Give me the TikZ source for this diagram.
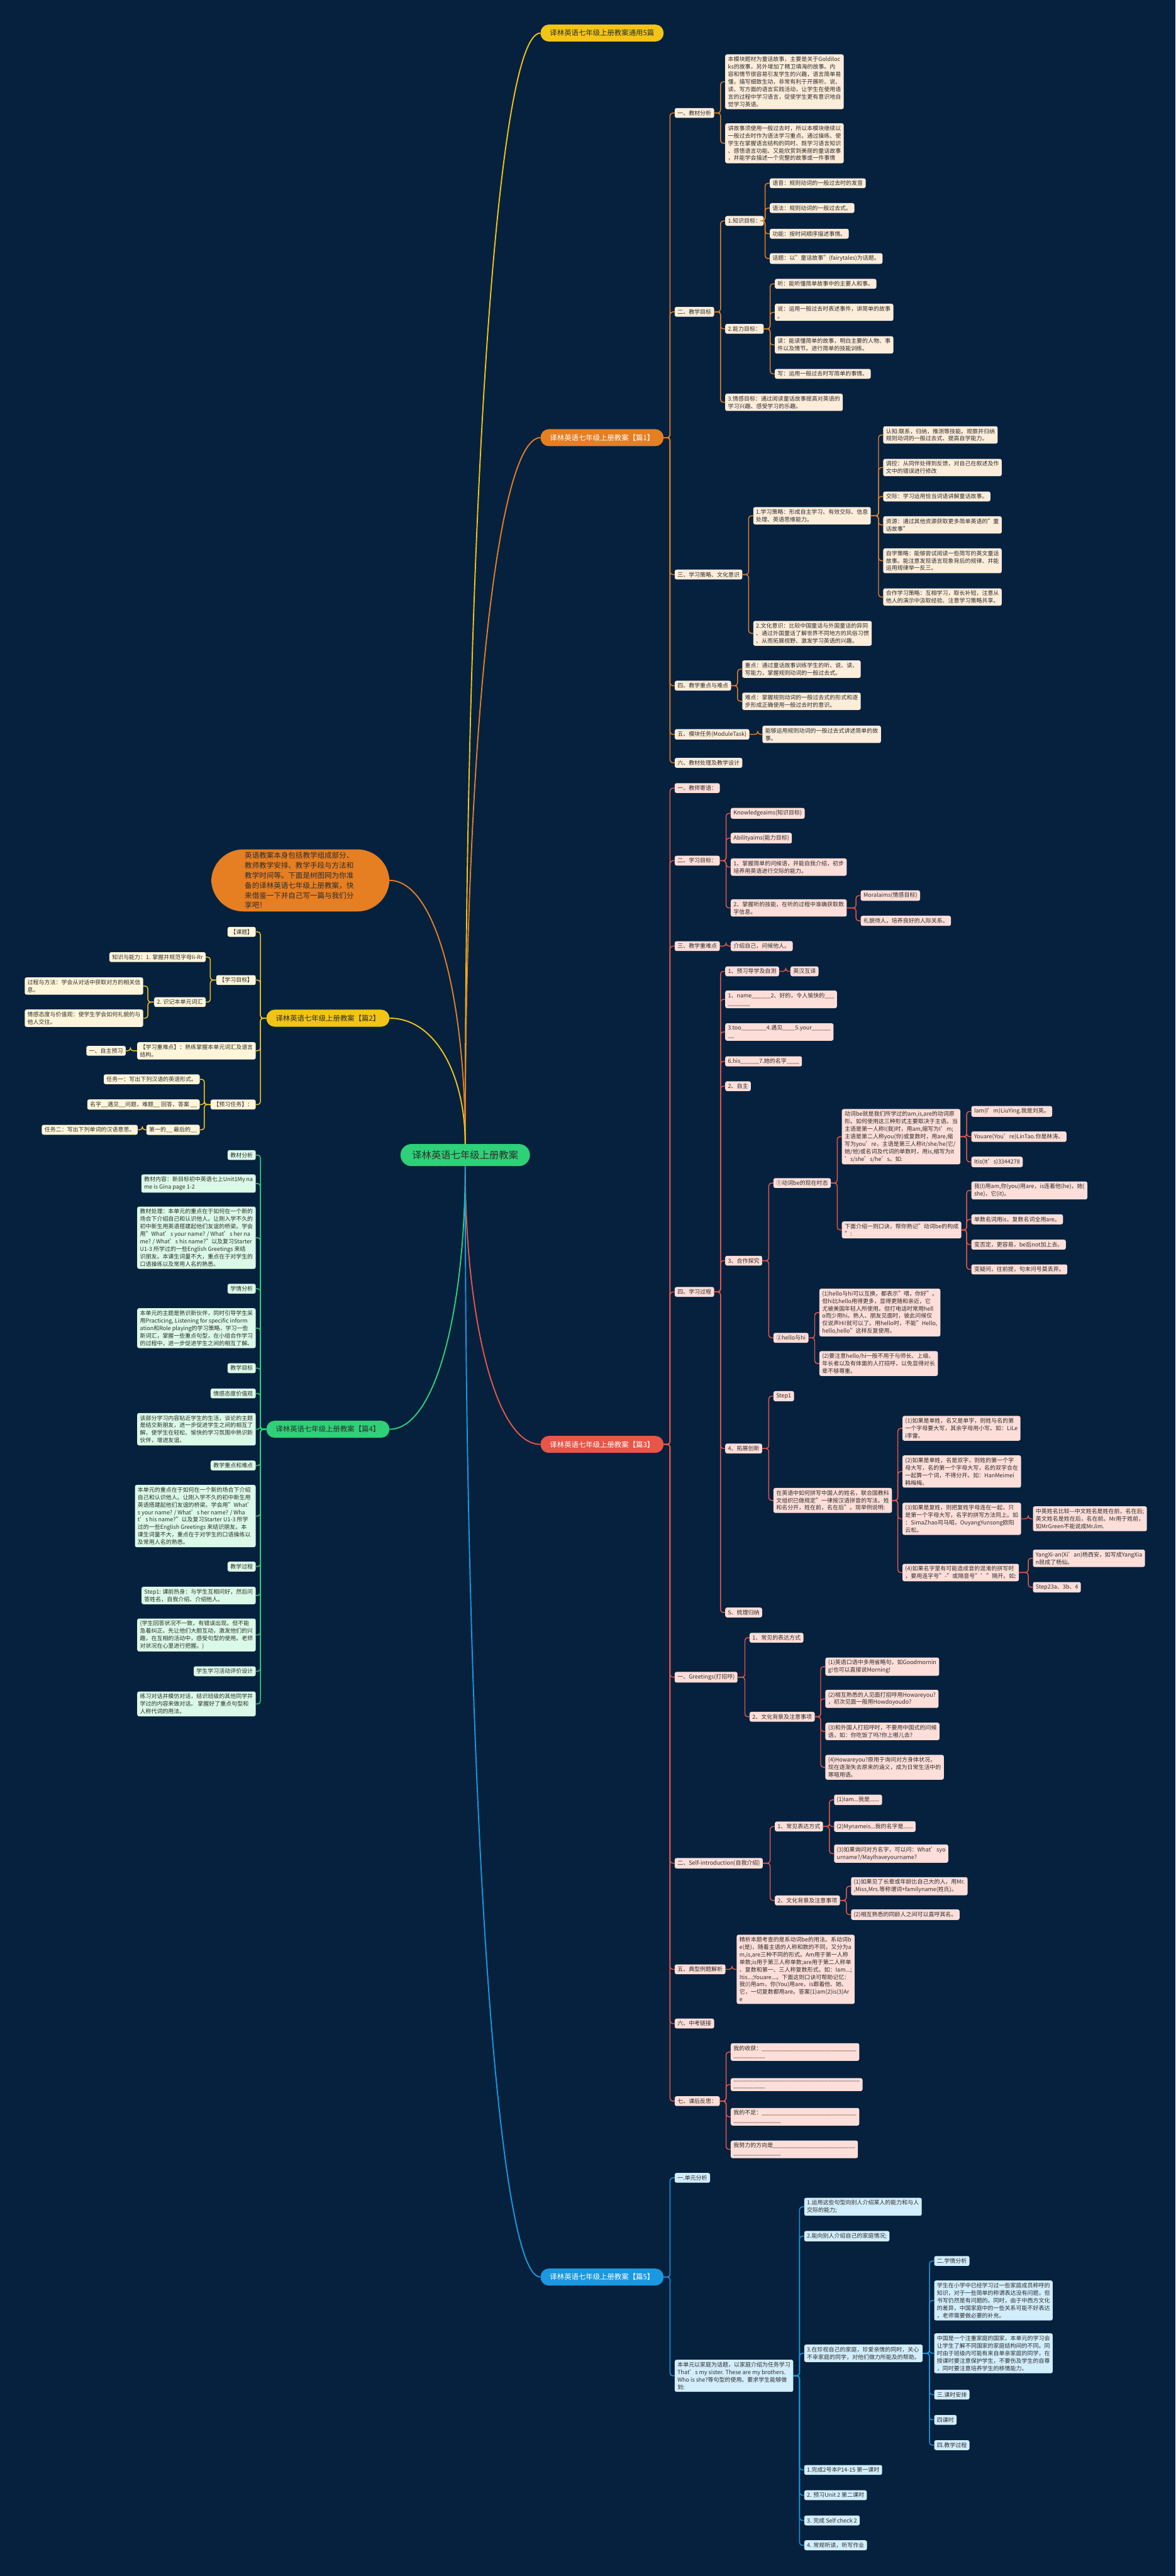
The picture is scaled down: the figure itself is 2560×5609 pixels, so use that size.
\documentclass[tikz,border=0pt]{standalone}
\usepackage{fontspec}
\setmainfont{Noto Sans CJK SC}

\definecolor{bg}{RGB}{5,33,62}
\definecolor{ink}{RGB}{45,45,45}
\definecolor{cYel}{RGB}{242,196,22}
\definecolor{cOra}{RGB}{230,126,34}
\definecolor{cRed}{RGB}{231,86,72}
\definecolor{cBlu}{RGB}{27,152,224}
\definecolor{cGrn}{RGB}{46,208,120}
\definecolor{fOra}{RGB}{252,236,218}
\definecolor{fRed}{RGB}{253,222,217}
\definecolor{fBlu}{RGB}{210,237,251}
\definecolor{fYel}{RGB}{254,245,218}
\definecolor{fGrn}{RGB}{219,249,231}

\newcommand{\fillin}[1]{\foreach \k in {1,...,#1}{\_}}

\begin{document}
\begin{tikzpicture}[
  x=1pt, y=-1pt,
  bx/.style={rounded corners=4pt, inner xsep=6pt, inner ysep=5pt, align=left,
    text=ink, font=\fontsize{12.3}{16.3}\selectfont},
  ro/.style={bx, fill=fOra, anchor=west},
  rr/.style={bx, fill=fRed, anchor=west},
  rb/.style={bx, fill=fBlu, anchor=west},
  ly/.style={bx, fill=fYel, anchor=east},
  lg/.style={bx, fill=fGrn, anchor=east},
  pill/.style={rounded corners=18pt, minimum width=268pt, minimum height=37pt,
    inner sep=0pt, font=\fontsize{15.6}{18}\selectfont},
  lk/.style={line width=2pt, rounded corners=6pt,
    to path={-| ([xshift=-10pt]\tikztotarget) -- (\tikztotarget)}},
  lkl/.style={line width=2pt, rounded corners=6pt,
    to path={-| ([xshift=10pt]\tikztotarget) -- (\tikztotarget)}},
  cv/.style={line width=2.6pt}
]
\useasboundingbox (0,0) rectangle (2560,5609);
\fill[bg] (0,0) rectangle (2560,5609);

% centre and main branches
\node[pill, fill=cGrn, text=ink, minimum width=282pt, minimum height=48pt,
  rounded corners=24pt, font=\fontsize{21}{24}\selectfont] (c) at (1013,2515) {译林英语七年级上册教案};
\node[pill, fill=cYel, text=ink] (h) at (1311,72) {译林英语七年级上册教案通用5篇};
\node[pill, fill=cOra, text=white] (p1) at (1311,953) {译林英语七年级上册教案【篇1】};
\node[pill, fill=cRed, text=white] (p3) at (1311,3145) {译林英语七年级上册教案【篇3】};
\node[pill, fill=cBlu, text=white] (p5) at (1311,4958) {译林英语七年级上册教案【篇5】};
\node[pill, fill=cYel, text=ink] (p2) at (714,2217) {译林英语七年级上册教案【篇2】};
\node[pill, fill=cGrn, text=ink] (p4) at (714,3112) {译林英语七年级上册教案【篇4】};
\node[fill=cOra, text=ink, rounded corners=70pt, text width=242pt, inner xsep=73pt,
  inner ysep=6pt, align=left, font=\fontsize{15.8}{21.7}\selectfont] (ds) at (654,1917)
  {英语教案本身包括教学组成部分、\\教师教学安排、教学手段与方法和\\教学时间等。下面是树图网为你准\\备的译林英语七年级上册教案，快\\来借鉴一下并自己写一篇与我们分\\享吧！};

\draw[cv, cYel] (c.north) .. controls +(0,-1330) and +(-98,0) .. (h.west);
\draw[cv, cOra] (c.north) .. controls +(0,-850) and +(-98,0) .. (p1.west);
\draw[cv, cOra] (c.north) .. controls +(0,-320) and +(100,0) .. (ds.east);
\draw[cv, cYel] (c.north) .. controls +(0,-150) and +(100,0) .. (p2.east);
\draw[cv, cGrn] (c.south) .. controls +(0,315) and +(100,0) .. (p4.east);
\draw[cv, cRed] (c.south) .. controls +(0,330) and +(-98,0) .. (p3.west);
\draw[cv, cBlu] (c.south) .. controls +(0,1330) and +(-98,0) .. (p5.west);

% 篇1
\node[ro] (a1) at (1469,246) {一、教材分析};
\node[ro] (a2) at (1469,679) {二、教学目标};
\node[ro] (a3) at (1469,1251) {三、学习策略、文化意识};
\node[ro] (a4) at (1469,1493) {四、教学重点与难点};
\node[ro] (a5) at (1469,1599) {五、模块任务(ModuleTask)};
\node[ro] (a6) at (1469,1661) {六、教材处理及教学设计};
\node[ro] (a11) at (1579,178) {本模块题材为童话故事，主要是关于Goldiloc\\ks的故事，另外增加了精卫填海的故事。内\\容和情节很容易引发学生的兴趣，语言简单易\\懂，描写细致生动，非常有利于开展听、说、\\读、写方面的语言实践活动，让学生在使用语\\言的过程中学习语言，促使学生更有意识地自\\觉学习英语。};
\node[ro] (a12) at (1579,312) {讲故事须使用一般过去时，所以本模块继续以\\一般过去时作为语法学习重点。通过操练、使\\学生在掌握语言结构的同时、既学习语言知识\\、感悟语言功能、又能欣赏到美丽的童话故事\\，并能学会描述一个完整的故事或一件事情};
\node[ro] (a21) at (1579,481) {1.知识目标：};
\node[ro] (a22) at (1579,716) {2.能力目标：};
\node[ro] (a23) at (1579,876) {3.情感目标：通过阅读童话故事提高对英语的\\学习兴趣、感受学习的乐趣。};
\node[ro] (a211) at (1676,399) {语音：规则动词的一般过去时的发音};
\node[ro] (a212) at (1676,453) {语法：规则动词的一般过去式。};
\node[ro] (a213) at (1676,509) {功能：按时间顺序描述事情。};
\node[ro] (a214) at (1676,563) {话题：以"童话故事"(fairytales)为话题。};
\node[ro] (a221) at (1687,618) {听：能听懂简单故事中的主要人和事。};
\node[ro] (a222) at (1687,680) {说：运用一般过去时表述事件，讲简单的故事\\。};
\node[ro] (a223) at (1687,751) {读：能读懂简单的故事，明白主要的人物、事\\件以及情节。进行简单的技能训练。};
\node[ro] (a224) at (1687,814) {写：运用一般过去时写简单的事情。};
\node[ro] (a31) at (1640,1123) {1.学习策略：形成自主学习、有效交际、信息\\处理、英语思维能力。};
\node[ro] (a32) at (1640,1379) {2.文化意识：比较中国童话与外国童话的异同\\、通过外国童话了解世界不同地方的风俗习惯\\、从而拓展视野、激发学习英语的兴趣。};
\node[ro] (a311) at (1923,947) {认知:联系，归纳，推测等技能。观察并归纳\\规则动词的一般过去式、提高自学能力。};
\node[ro] (a312) at (1923,1018) {调控：从同伴处得到反馈，对自己在叙述及作\\文中的错误进行修改};
\node[ro] (a313) at (1923,1081) {交际：学习运用恰当词语讲解童话故事。};
\node[ro] (a314) at (1923,1143) {资源：通过其他资源获取更多简单英语的"童\\话故事"};
\node[ro] (a315) at (1923,1221) {自学策略：能够尝试阅读一些简写的英文童话\\故事。能注意发现语言现象背后的规律、并能\\运用规律举一反三。};
\node[ro] (a316) at (1923,1300) {合作学习策略：互相学习，取长补短，注意从\\他人的演示中汲取经验、注意学习策略共享。};
\node[ro] (a41) at (1616,1457) {重点：通过童话故事训练学生的听、说、读、\\写能力，掌握规则动词的一般过去式。};
\node[ro] (a42) at (1616,1527) {难点：掌握规则动词的一般过去式的形式和逐\\步形成正确使用一般过去时的意识。};
\node[ro] (a51) at (1660,1599) {能够运用规则动词的一般过去式讲述简单的故\\事。};

\draw[lk, cOra] (p1.east) to (a1.west); \draw[lk, cOra] (p1.east) to (a2.west);
\draw[lk, cOra] (p1.east) to (a3.west); \draw[lk, cOra] (p1.east) to (a4.west);
\draw[lk, cOra] (p1.east) to (a5.west); \draw[lk, cOra] (p1.east) to (a6.west);
\draw[lk, cOra] (a1.east) to (a11.west); \draw[lk, cOra] (a1.east) to (a12.west);
\draw[lk, cOra] (a2.east) to (a21.west); \draw[lk, cOra] (a2.east) to (a22.west);
\draw[lk, cOra] (a2.east) to (a23.west);
\draw[lk, cOra] (a21.east) to (a211.west); \draw[lk, cOra] (a21.east) to (a212.west);
\draw[lk, cOra] (a21.east) to (a213.west); \draw[lk, cOra] (a21.east) to (a214.west);
\draw[lk, cOra] (a22.east) to (a221.west); \draw[lk, cOra] (a22.east) to (a222.west);
\draw[lk, cOra] (a22.east) to (a223.west); \draw[lk, cOra] (a22.east) to (a224.west);
\draw[lk, cOra] (a3.east) to (a31.west); \draw[lk, cOra] (a3.east) to (a32.west);
\draw[lk, cOra] (a31.east) to (a311.west); \draw[lk, cOra] (a31.east) to (a312.west);
\draw[lk, cOra] (a31.east) to (a313.west); \draw[lk, cOra] (a31.east) to (a314.west);
\draw[lk, cOra] (a31.east) to (a315.west); \draw[lk, cOra] (a31.east) to (a316.west);
\draw[lk, cOra] (a4.east) to (a41.west); \draw[lk, cOra] (a4.east) to (a42.west);
\draw[lk, cOra] (a5.east) to (a51.west);

% 篇3
\node[rr] (b1) at (1469,1716) {一、教师寄语：};
\node[rr] (b2) at (1469,1874) {二、学习目标：};
\node[rr] (b3) at (1469,2060) {三、教学重难点};
\node[rr] (b4) at (1469,2813) {四、学习过程};
\node[rr] (b5) at (1469,3652) {一、Greetings(打招呼)};
\node[rr] (b6) at (1469,4057) {二、Self-introduction(自我介绍)};
\node[rr] (b7) at (1469,4288) {五、典型例题解析};
\node[rr] (b8) at (1469,4406) {六、中考链接};
\node[rr] (b9) at (1469,4575) {七、课后反思：};
\node[rr] (b21) at (1591,1771) {Knowledgeaims(知识目标)};
\node[rr] (b22) at (1591,1825) {Abilityaims(能力目标)};
\node[rr] (b23) at (1591,1888) {1、掌握简单的问候语，并能自我介绍，初步\\培养用英语进行交际的能力。};
\node[rr] (b24) at (1591,1977) {2、掌握听的技能，在听的过程中准确获取数\\字信息。};
\node[rr] (b241) at (1874,1950) {Moralaims(情感目标)};
\node[rr] (b242) at (1874,2005) {礼貌待人，培养良好的人际关系。};
\node[rr] (b31) at (1591,2060) {介绍自己，问候他人。};
\node[rr] (b41) at (1579,2115) {1、预习导学及自测};
\node[rr] (b411) at (1721,2115) {英汉互译};
\node[rr] (b42) at (1579,2176) {1、name\fillin{6}2、好的，令人愉快的\fillin{3}\\\fillin{7}};
\node[rr] (b43) at (1579,2247) {3.too\fillin{8}4.遇见\fillin{4}5.your\fillin{6}\\\fillin{2}};
\node[rr] (b44) at (1579,2311) {6.his\fillin{6}7.她的名字\fillin{4}};
\node[rr] (b45) at (1579,2365) {2、自主};
\node[rr] (b46) at (1579,2745) {3、合作探究};
\node[rr] (b47) at (1579,3154) {4、拓展创新};
\node[rr] (b48) at (1579,3511) {5、梳理归纳};
\node[rr] (b461) at (1684,2576) {①动词be的现在时态};
\node[rr] (b462) at (1684,2913) {②hello与hi};
\node[rr] (b4611) at (1833,2475) {动词be就是我们所学过的am,is,are的动词原\\形。如何使用这三种形式主要取决于主语。当\\主语是第一人称I(我)时，用am,缩写为I’m;\\主语是第二人称you(你)或复数时，用are,缩\\写为you’re，主语是第三人称it/she/he(它/\\她/他)或名词及代词的单数时，用is,缩写为it\\’s/she’s/he’s。如:};
\node[rr] (b4612) at (1833,2678) {下面介绍一则口诀，帮你熟记"动词be的构成\\":};
\node[rr] (b46111) at (2115,2420) {Iam(I’m)LiuYing.我是刘英。};
\node[rr] (b46112) at (2115,2475) {Youare(You’re)LinTao.你是林涛。};
\node[rr] (b46113) at (2115,2530) {Itis(It’s)3344278};
\node[rr] (b46121) at (2115,2592) {我(I)用am,你(you)用are，is连着他(he)，她(\\she)，它(it)。};
\node[rr] (b46122) at (2115,2655) {单数名词用is，复数名词全用are。};
\node[rr] (b46123) at (2115,2710) {变否定，更容易，be后not加上去。};
\node[rr] (b46124) at (2115,2764) {变疑问，往前提，句末问号莫丢弃。};
\node[rr] (b4621) at (1784,2858) {(1)hello与hi可以互换，都表示"喂，你好"。\\但hi比hello用得更多，显得更随和亲近，它\\尤被美国年轻人所使用。但打电话时常用hell\\o而少用hi。熟人、朋友见面时，彼此问候仅\\仅说声Hi!就可以了。用hello时，不能"Hello,\\hello,hello"这样反复使用。};
\node[rr] (b4622) at (1784,2969) {(2)要注意hello/hi一般不用于与师长、上级、\\年长者以及有体面的人打招呼，以免显得对长\\辈不够尊重。};
\node[rr] (b471) at (1684,3040) {Step1};
\node[rr] (b472) at (1684,3267) {在英语中如何拼写中国人的姓名，联合国教科\\文组织已做规定"一律按汉语拼音的写法。姓\\和名分开，姓在前，名在后"。现举例说明:};
\node[rr] (b4721) at (1965,3110) {(1)如果是单姓，名又是单字，则姓与名的第\\一个字母要大写，其余字母用小写。如：LiLe\\i李雷。};
\node[rr] (b4722) at (1965,3204) {(2)如果是单姓，名是双字，则姓的第一个字\\母大写，名的第一个字母大写，名的双字合在\\一起算一个词，不得分开。如：HanMeimei\\韩梅梅。};
\node[rr] (b4723) at (1965,3307) {(3)如果是复姓，则把复姓字母连在一起，只\\是第一个字母大写，名字的拼写方法同上。如\\：SimaZhao司马昭，OuyangYunsong欧阳\\云松。};
\node[rr] (b4724) at (1965,3424) {(4)如果名字里有可能造成音的混淆的拼写时\\，要用连字号"-"或隔音号"’"隔开。如:};
\node[rr] (b47231) at (2249,3307) {中英姓名比较—中文姓名是姓在前，名在后;\\英文姓名是姓在后，名在前。Mr用于姓前，\\如MrGreen不能说成MrJim.};
\node[rr] (b47241) at (2249,3393) {YangXi-an(Xi’an)杨西安，如写成YangXia\\n就成了杨仙。};
\node[rr] (b47242) at (2249,3456) {Step23a、3b、4};
\node[rr] (b51) at (1632,3566) {1、常见的表达方式};
\node[rr] (b52) at (1632,3738) {2、文化背景及注意事项};
\node[rr] (b521) at (1797,3629) {(1)英语口语中多用省略句，如Goodmornin\\g!也可以直接说Morning!};
\node[rr] (b522) at (1797,3699) {(2)相互熟悉的人见面打招呼用Howareyou?\\，初次见面一般用Howdoyoudo?};
\node[rr] (b523) at (1797,3770) {(3)和外国人打招呼时，不要用中国式的问候\\语，如：你吃饭了吗?你上哪儿去?};
\node[rr] (b524) at (1797,3848) {(4)Howareyou?原用于询问对方身体状况，\\现在逐渐失去原来的涵义，成为日常生活中的\\寒暄用语。};
\node[rr] (b61) at (1687,3977) {1、常见表达方式};
\node[rr] (b62) at (1687,4138) {2、文化背景及注意事项};
\node[rr] (b611) at (1816,3919) {(1)Iam...我是......};
\node[rr] (b612) at (1816,3977) {(2)Mynameis...我的名字是......};
\node[rr] (b613) at (1816,4036) {(3)如果询问对方名字，可以问：What’syo\\urname?/MayIhaveyourname?};
\node[rr] (b621) at (1853,4107) {(1)如果见了长辈或年龄比自己大的人，用Mr.\\,Miss,Mrs.等称谓词+familyname(姓氏)。};
\node[rr] (b622) at (1853,4169) {(2)相互熟悉的同龄人之间可以直呼其名。};
\node[rr] (b71) at (1604,4288) {精析本题考查的是系动词be的用法。系动词b\\e(是)，随着主语的人称和数的不同，又分为a\\m,is,are三种不同的形式。Am用于第一人称\\单数;is用于第三人称单数;are用于第二人称单\\、复数和第一、三人称复数形式。如：Iam...;\\Itis...;Youare...。下面这则口诀可帮助记忆：\\我(I)用am，你(You)用are，is跟着他、她、\\它，一切复数都用are。答案(1)am(2)is(3)Ar\\e};
\node[rr] (b91) at (1591,4468) {我的收获：\fillin{30}\\\fillin{10}};
\node[rr] (b92) at (1591,4539) {\fillin{40}\\\fillin{10}};
\node[rr] (b93) at (1591,4609) {我的不足：\fillin{30}\\\fillin{15}};
\node[rr] (b94) at (1591,4680) {我努力的方向是\fillin{26}\\\fillin{15}};

\draw[lk, cRed] (p3.east) to (b1.west); \draw[lk, cRed] (p3.east) to (b2.west);
\draw[lk, cRed] (p3.east) to (b3.west); \draw[lk, cRed] (p3.east) to (b4.west);
\draw[lk, cRed] (p3.east) to (b5.west); \draw[lk, cRed] (p3.east) to (b6.west);
\draw[lk, cRed] (p3.east) to (b7.west); \draw[lk, cRed] (p3.east) to (b8.west);
\draw[lk, cRed] (p3.east) to (b9.west);
\draw[lk, cRed] (b2.east) to (b21.west); \draw[lk, cRed] (b2.east) to (b22.west);
\draw[lk, cRed] (b2.east) to (b23.west); \draw[lk, cRed] (b2.east) to (b24.west);
\draw[lk, cRed] (b24.east) to (b241.west); \draw[lk, cRed] (b24.east) to (b242.west);
\draw[lk, cRed] (b3.east) to (b31.west);
\draw[lk, cRed] (b4.east) to (b41.west); \draw[lk, cRed] (b4.east) to (b42.west);
\draw[lk, cRed] (b4.east) to (b43.west); \draw[lk, cRed] (b4.east) to (b44.west);
\draw[lk, cRed] (b4.east) to (b45.west); \draw[lk, cRed] (b4.east) to (b46.west);
\draw[lk, cRed] (b4.east) to (b47.west); \draw[lk, cRed] (b4.east) to (b48.west);
\draw[lk, cRed] (b41.east) to (b411.west);
\draw[lk, cRed] (b46.east) to (b461.west); \draw[lk, cRed] (b46.east) to (b462.west);
\draw[lk, cRed] (b461.east) to (b4611.west); \draw[lk, cRed] (b461.east) to (b4612.west);
\draw[lk, cRed] (b4611.east) to (b46111.west); \draw[lk, cRed] (b4611.east) to (b46112.west);
\draw[lk, cRed] (b4611.east) to (b46113.west);
\draw[lk, cRed] (b4612.east) to (b46121.west); \draw[lk, cRed] (b4612.east) to (b46122.west);
\draw[lk, cRed] (b4612.east) to (b46123.west); \draw[lk, cRed] (b4612.east) to (b46124.west);
\draw[lk, cRed] (b462.east) to (b4621.west); \draw[lk, cRed] (b462.east) to (b4622.west);
\draw[lk, cRed] (b47.east) to (b471.west); \draw[lk, cRed] (b47.east) to (b472.west);
\draw[lk, cRed] (b472.east) to (b4721.west); \draw[lk, cRed] (b472.east) to (b4722.west);
\draw[lk, cRed] (b472.east) to (b4723.west); \draw[lk, cRed] (b472.east) to (b4724.west);
\draw[lk, cRed] (b4723.east) to (b47231.west);
\draw[lk, cRed] (b4724.east) to (b47241.west); \draw[lk, cRed] (b4724.east) to (b47242.west);
\draw[lk, cRed] (b5.east) to (b51.west); \draw[lk, cRed] (b5.east) to (b52.west);
\draw[lk, cRed] (b52.east) to (b521.west); \draw[lk, cRed] (b52.east) to (b522.west);
\draw[lk, cRed] (b52.east) to (b523.west); \draw[lk, cRed] (b52.east) to (b524.west);
\draw[lk, cRed] (b6.east) to (b61.west); \draw[lk, cRed] (b6.east) to (b62.west);
\draw[lk, cRed] (b61.east) to (b611.west); \draw[lk, cRed] (b61.east) to (b612.west);
\draw[lk, cRed] (b61.east) to (b613.west);
\draw[lk, cRed] (b62.east) to (b621.west); \draw[lk, cRed] (b62.east) to (b622.west);
\draw[lk, cRed] (b7.east) to (b71.west);
\draw[lk, cRed] (b9.east) to (b91.west); \draw[lk, cRed] (b9.east) to (b92.west);
\draw[lk, cRed] (b9.east) to (b93.west); \draw[lk, cRed] (b9.east) to (b94.west);

% 篇5
\node[rb] (e1) at (1469,4742) {一.单元分析};
\node[rb] (e2) at (1469,5173) {本单元以家庭为话题，以家庭介绍为任务学习\\That’s my sister. These are my brothers.\\Who is she?等句型的使用。要求学生能够做\\到:};
\node[rb] (e21) at (1751,4805) {1.运用这些句型向别人介绍某人的能力和与人\\交际的能力;};
\node[rb] (e22) at (1751,4869) {2.能向别人介绍自己的家庭情况;};
\node[rb] (e23) at (1751,5124) {3.在珍视自己的家庭，珍爱亲情的同时，关心\\不幸家庭的同学，对他们做力所能及的帮助。};
\node[rb] (e24) at (1751,5378) {1.完成2号本P14-15 第一课时};
\node[rb] (e25) at (1751,5433) {2. 预习Unit 2 第二课时};
\node[rb] (e26) at (1751,5488) {3. 完成 Self check 2};
\node[rb] (e27) at (1751,5542) {4. 常规听读，听写作业};
\node[rb] (e231) at (2034,4923) {二.学情分析};
\node[rb] (e232) at (2034,5009) {学生在小学中已经学习过一些家庭成员称呼的\\知识，对于一些简单的称谓表达没有问题，但\\书写仍然是有问题的。同时，由于中西方文化\\的差异，中国家庭中的一些关系可能不好表达\\，老师需要做必要的补充。};
\node[rb] (e233) at (2034,5124) {中国是一个注重家庭的国家，本单元的学习会\\让学生了解不同国家的家庭结构间的不同。同\\时由于班级内可能有来自单亲家庭的同学，在\\授课时要注意保护学生，不要伤及学生的自尊\\，同时要注意培养学生的移情能力。};
\node[rb] (e234) at (2034,5214) {三.课时安排};
\node[rb] (e235) at (2034,5269) {四课时};
\node[rb] (e236) at (2034,5324) {四.教学过程};

\draw[lk, cBlu] (p5.east) to (e1.west); \draw[lk, cBlu] (p5.east) to (e2.west);
\draw[lk, cBlu] (e2.east) to (e21.west); \draw[lk, cBlu] (e2.east) to (e22.west);
\draw[lk, cBlu] (e2.east) to (e23.west); \draw[lk, cBlu] (e2.east) to (e24.west);
\draw[lk, cBlu] (e2.east) to (e25.west); \draw[lk, cBlu] (e2.east) to (e26.west);
\draw[lk, cBlu] (e2.east) to (e27.west);
\draw[lk, cBlu] (e23.east) to (e231.west); \draw[lk, cBlu] (e23.east) to (e232.west);
\draw[lk, cBlu] (e23.east) to (e233.west); \draw[lk, cBlu] (e23.east) to (e234.west);
\draw[lk, cBlu] (e23.east) to (e235.west); \draw[lk, cBlu] (e23.east) to (e236.west);

% 篇2
\node[ly] (y1) at (557,2029) {【课题】};
\node[ly] (y2) at (557,2134) {【学习目标】};
\node[ly] (y3) at (557,2288) {【学习重难点】：熟练掌握本单元词汇及语言\\结构。};
\node[ly] (y4) at (557,2405) {【预习任务】：};
\node[ly] (y21) at (448,2084) {知识与能力：1. 掌握并规范字母Ii-Rr};
\node[ly] (y22) at (448,2182) {2. 识记本单元词汇};
\node[ly] (y221) at (312,2147) {过程与方法：学会从对话中获取对方的相关信\\息。};
\node[ly] (y222) at (312,2217) {情感态度与价值观：使学生学会如何礼貌的与\\他人交往。};
\node[ly] (y31) at (274,2288) {一、自主预习};
\node[ly] (y41) at (435,2350) {任务一：写出下列汉语的英语形式。};
\node[ly] (y42) at (435,2405) {名字\_\_遇见\_\_问题，难题\_\_ 回答，答案 \_\_};
\node[ly] (y43) at (435,2460) {第一的\_\_ 最后的\_\_};
\node[ly] (y431) at (300,2460) {任务二：写出下列单词的汉语意思。};

\draw[lkl, cYel] (p2.west) to (y1.east); \draw[lkl, cYel] (p2.west) to (y2.east);
\draw[lkl, cYel] (p2.west) to (y3.east); \draw[lkl, cYel] (p2.west) to (y4.east);
\draw[lkl, cYel] (y2.west) to (y21.east); \draw[lkl, cYel] (y2.west) to (y22.east);
\draw[lkl, cYel] (y22.west) to (y221.east); \draw[lkl, cYel] (y22.west) to (y222.east);
\draw[lkl, cYel] (y3.west) to (y31.east);
\draw[lkl, cYel] (y4.west) to (y41.east); \draw[lkl, cYel] (y4.west) to (y42.east);
\draw[lkl, cYel] (y4.west) to (y43.east);
\draw[lkl, cYel] (y43.west) to (y431.east);

% 篇4
\node[lg] (g1) at (557,2515) {教材分析};
\node[lg] (g2) at (557,2577) {教材内容：新目标初中英语七上Unit1My na\\me is Gina page 1-2};
\node[lg] (g3) at (557,2695) {教材处理：本单元的重点在于如何在一个新的\\场合下介绍自己和认识他人。让刚入学不久的\\初中新生用英语搭建起他们友谊的桥梁。学会\\用"What’s your name? / What’s her na\\me? / What’s his name?"以及复习Starter\\ U1-3 所学过的一些English Greetings 来结\\识朋友。本课生词量不大，重点在于对学生的\\口语操练以及常用人名的熟悉。};
\node[lg] (g4) at (557,2806) {学情分析};
\node[lg] (g5) at (557,2892) {本单元的主题是熟识新伙伴，同时引导学生采\\用Practicing, Listening for specific inform\\ation和Role playing的学习策略，学习一些\\新词汇，掌握一些重点句型，在小组合作学习\\的过程中，进一步促进学生之间的相互了解。};
\node[lg] (g6) at (557,2979) {教学目标};
\node[lg] (g7) at (557,3034) {情感态度价值观};
\node[lg] (g8) at (557,3112) {该部分学习内容贴近学生的生活，谈论的主题\\是结交新朋友，进一步促进学生之间的相互了\\解，使学生在轻松、愉快的学习氛围中熟识新\\伙伴，增进友谊。};
\node[lg] (g9) at (557,3191) {教学重点和难点};
\node[lg] (g10) at (557,3301) {本单元的重点在于如何在一个新的场合下介绍\\自己和认识他人。让刚入学不久的初中新生用\\英语搭建起他们友谊的桥梁。学会用"What’\\s your name? / What’s her name? / Wha\\t’s his name?"以及复习Starter U1-3 所学\\过的一些English Greetings 来结识朋友。本\\课生词量不大，重点在于对学生的口语操练以\\及常用人名的熟悉。};
\node[lg] (g11) at (557,3411) {教学过程};
\node[lg] (g12) at (557,3474) {Step1: 课前热身：与学生互相问好，然后问\\答姓名，自我介绍、介绍他人。};
\node[lg] (g13) at (557,3560) {(学生回答状况不一致，有错误出现。但不能\\急着纠正。先让他们大胆互动，激发他们的兴\\趣，在互相的活动中，感受句型的使用。老师\\对状况在心里进行把握。)};
\node[lg] (g14) at (557,3639) {学生学习活动评价设计};
\node[lg] (g15) at (557,3710) {练习对话并模仿对话，结识班级的其他同学并\\学过的内容来做对话。 掌握好了重点句型和\\人称代词的用法。};

\draw[lkl, cGrn] (p4.west) to (g1.east); \draw[lkl, cGrn] (p4.west) to (g2.east);
\draw[lkl, cGrn] (p4.west) to (g3.east); \draw[lkl, cGrn] (p4.west) to (g4.east);
\draw[lkl, cGrn] (p4.west) to (g5.east); \draw[lkl, cGrn] (p4.west) to (g6.east);
\draw[lkl, cGrn] (p4.west) to (g7.east); \draw[lkl, cGrn] (p4.west) to (g8.east);
\draw[lkl, cGrn] (p4.west) to (g9.east); \draw[lkl, cGrn] (p4.west) to (g10.east);
\draw[lkl, cGrn] (p4.west) to (g11.east); \draw[lkl, cGrn] (p4.west) to (g12.east);
\draw[lkl, cGrn] (p4.west) to (g13.east); \draw[lkl, cGrn] (p4.west) to (g14.east);
\draw[lkl, cGrn] (p4.west) to (g15.east);
\end{tikzpicture}
\end{document}
